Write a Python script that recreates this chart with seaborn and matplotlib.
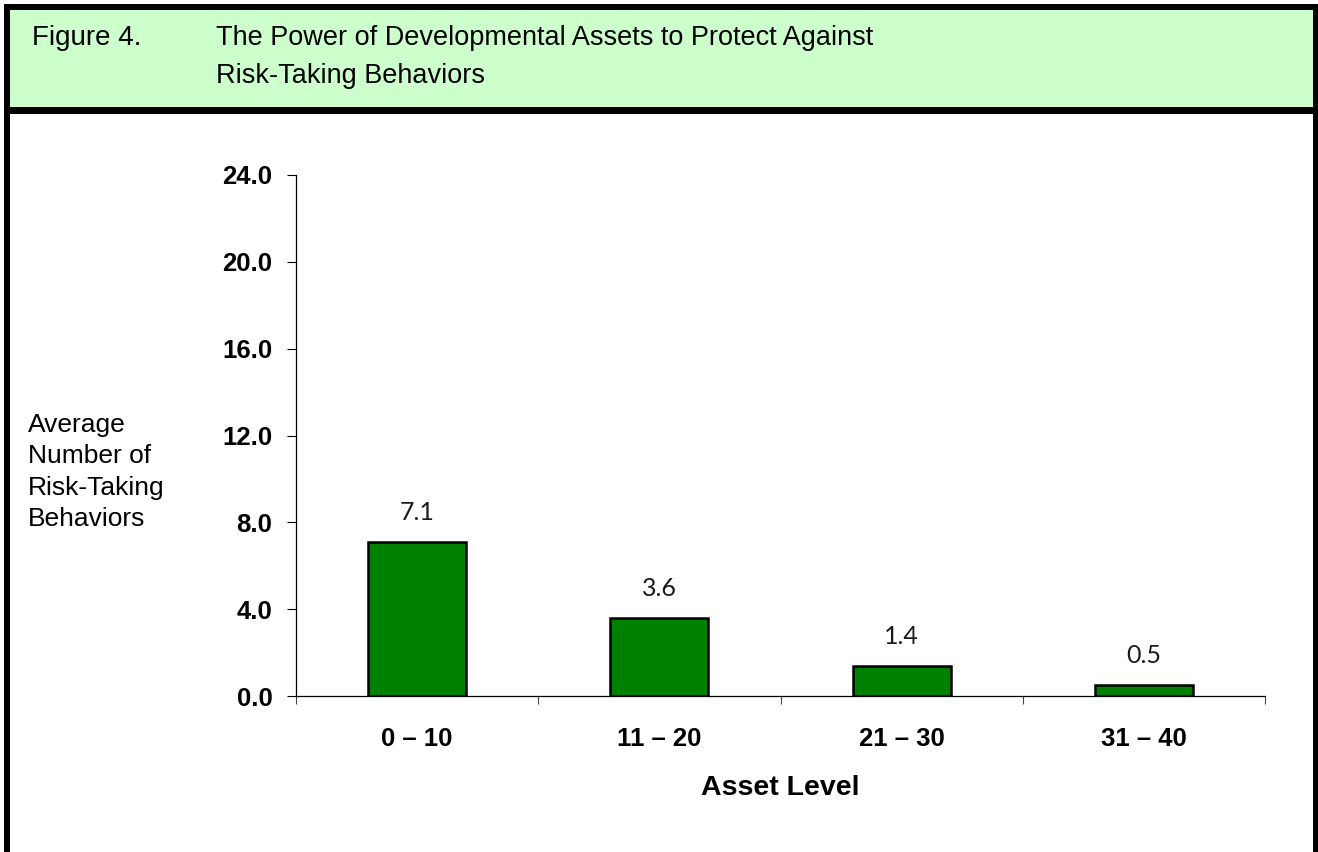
import matplotlib
matplotlib.use("Agg")
import matplotlib.pyplot as plt
from matplotlib.patches import Rectangle
import seaborn as sns

# ---- data ----
categories = ["0 \u2013 10", "11 \u2013 20", "21 \u2013 30", "31 \u2013 40"]
values = [7.1, 3.6, 1.4, 0.5]
y_ticks = [0, 4, 8, 12, 16, 20, 24]
title_num = "Figure 4."
title_line1 = "The Power of Developmental Assets to Protect Against"
title_line2 = "Risk-Taking Behaviors"
y_label = "Average\nNumber of\nRisk-Taking\nBehaviors"
x_label = "Asset Level"

sns.set_theme(style="white")
plt.rcParams["font.family"] = ["Liberation Sans", "DejaVu Sans"]
plt.rcParams["text.color"] = "black"
plt.rcParams["xtick.color"] = "black"
plt.rcParams["ytick.color"] = "black"
plt.rcParams["xtick.labelcolor"] = "black"
plt.rcParams["ytick.labelcolor"] = "black"

W, H = 1318, 852
fig = plt.figure(figsize=(W / 100, H / 100), dpi=100)
fig.patch.set_facecolor("white")


def px_rect(x0, y0, x1, y1, color):
    fig.add_artist(Rectangle((x0 / W, 1 - y1 / H), (x1 - x0) / W, (y1 - y0) / H,
                             transform=fig.transFigure, facecolor=color,
                             edgecolor="none", zorder=0))

# header band and frame
px_rect(10, 10, 1313, 107, "#CCFFCC")
px_rect(4, 4, 1318, 10, "black")
px_rect(4, 107, 1318, 114, "black")
px_rect(4, 4, 10, 852, "black")
px_rect(1313, 4, 1318, 852, "black")

fig.text(32 / W, 1 - 45 / H, title_num, fontsize=20, va="baseline", ha="left", color="black")
fig.text(216 / W, 1 - 45 / H, title_line1, fontsize=19.5, va="baseline", ha="left", color="black")
fig.text(216 / W, 1 - 83 / H, title_line2, fontsize=19.5, va="baseline", ha="left", color="black")

ax = fig.add_axes([296 / W, 1 - 696 / H, (1265 - 296) / W, (696 - 175) / H])
ax.set_facecolor("none")

sns.barplot(x=categories, y=values, color="#008000", saturation=1,
            edgecolor="black", linewidth=1.8, width=0.404, ax=ax, zorder=3)

ax.set_xlim(-0.5, len(categories) - 0.5)
ax.set_ylim(0, 24)
ax.set_yticks(y_ticks)
ax.set_yticklabels([f"{t:.1f}" for t in y_ticks], fontsize=18.5, fontweight="bold", color="black")
ax.set_xticks(range(len(categories)))
ax.set_xticklabels(categories, fontsize=18.5, fontweight="bold", color="black")
ax.set_xticks([i - 0.5 for i in range(len(categories) + 1)], minor=True)
ax.tick_params(axis="x", which="major", length=0, pad=22)
ax.tick_params(axis="x", which="minor", length=6, width=0.8, color="#444444", direction="out", bottom=True)
ax.tick_params(axis="y", which="major", length=6.5, width=0.8, color="black", direction="out", pad=10.5, left=True)
ax.set_xlabel("")
ax.set_ylabel("")

for s in ["top", "right"]:
    ax.spines[s].set_visible(False)
for s in ["left", "bottom"]:
    ax.spines[s].set_color("black")
    ax.spines[s].set_linewidth(0.9)

ax.bar_label(ax.containers[0], labels=[f"{v:.1f}" for v in values], padding=13,
             fontsize=18, family=["Lato", "DejaVu Sans"], fontweight="normal", color="#1a1a1a")

fig.text(28 / W, 1 - 472 / H, y_label, fontsize=19, ha="left", va="center",
         multialignment="left", linespacing=1.38, color="black")
fig.text(780 / W, 1 - 795 / H, x_label, fontsize=20.5, fontweight="bold",
         ha="center", va="baseline", color="black")

fig.savefig("out.png", dpi=100)
